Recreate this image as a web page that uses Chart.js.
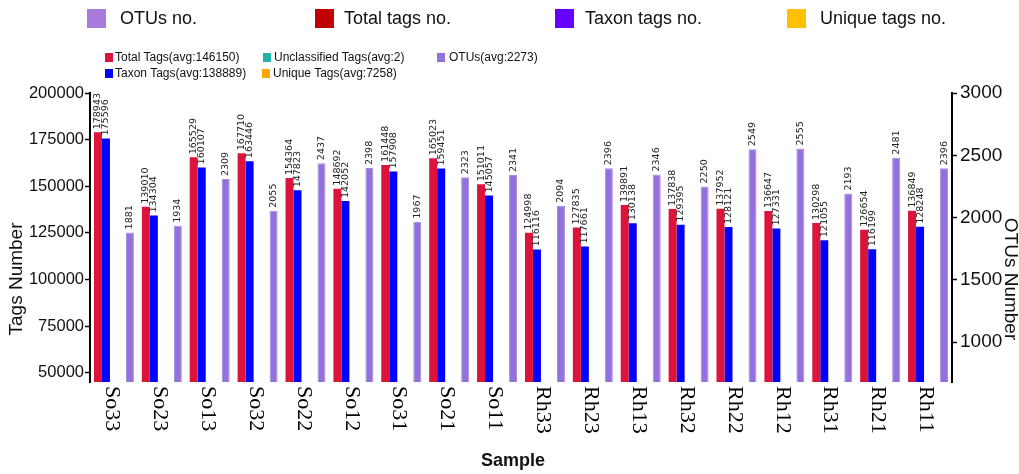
<!DOCTYPE html>
<html lang="en">
<head>
  <meta charset="UTF-8">
  <title>Tags and OTUs per sample</title>
  <script src="https://cdn.jsdelivr.net/npm/chart.js"></script>
  <style>
    body { margin: 0; background: #fff; font-family: 'Liberation Sans', Arial, sans-serif; }
    #wrap { position: relative; width: 1019px; height: 474px; overflow: hidden; }
    #chart { position: absolute; left: 0; top: 0; }
    .sq { position: absolute; }
    .lg { position: absolute; color: #111; white-space: nowrap; line-height: 1; }
    .big { font-size: 18px; }
    .small { font-size: 12px; }
  </style>
</head>
<body>
  <div id="wrap">
    <canvas id="chart" width="1019" height="474"></canvas>

    <!-- top legend -->
    <div class="sq" style="left:87px;top:9px;width:19px;height:19px;background:#a97bdc"></div>
    <div class="lg big" style="left:120px;top:9px">OTUs no.</div>
    <div class="sq" style="left:315px;top:9px;width:19px;height:19px;background:#c00000"></div>
    <div class="lg big" style="left:344px;top:9px">Total tags no.</div>
    <div class="sq" style="left:555px;top:9px;width:19px;height:19px;background:#6600ff"></div>
    <div class="lg big" style="left:585px;top:9px">Taxon tags no.</div>
    <div class="sq" style="left:787px;top:9px;width:19px;height:19px;background:#ffc000"></div>
    <div class="lg big" style="left:820px;top:9px">Unique tags no.</div>

    <!-- second legend -->
    <div class="sq" style="left:105px;top:53px;width:8px;height:9px;background:#dc143c"></div>
    <div class="lg small" style="left:115px;top:51px">Total Tags(avg:146150)</div>
    <div class="sq" style="left:263px;top:53px;width:8px;height:9px;background:#20b2aa"></div>
    <div class="lg small" style="left:274px;top:51px">Unclassified Tags(avg:2)</div>
    <div class="sq" style="left:437px;top:53px;width:8px;height:9px;background:#9370db"></div>
    <div class="lg small" style="left:449px;top:51px">OTUs(avg:2273)</div>
    <div class="sq" style="left:105px;top:69px;width:8px;height:9px;background:#0000ff"></div>
    <div class="lg small" style="left:115px;top:67px">Taxon Tags(avg:138889)</div>
    <div class="sq" style="left:262px;top:69px;width:8px;height:9px;background:#ffa500"></div>
    <div class="lg small" style="left:273px;top:67px">Unique Tags(avg:7258)</div>
  </div>

  <script>
    const samples = ["So33", "So23", "So13", "So32", "So22", "So12", "So31", "So21", "So11",
                     "Rh33", "Rh23", "Rh13", "Rh32", "Rh22", "Rh12", "Rh31", "Rh21", "Rh11"];
    const totalTags = [178943, 139010, 165529, 167710, 154364, 148692, 161448, 165023, 151011,
                       124998, 127835, 139891, 137838, 137952, 136647, 130298, 126654, 136849];
    const taxonTags = [175596, 134304, 160107, 163446, 147823, 142052, 157908, 159451, 145057,
                       116116, 117661, 130138, 129395, 128121, 127331, 121055, 116199, 128248];
    const unclassifiedTags = [2, 2, 2, 2, 2, 2, 2, 2, 2, 2, 2, 2, 2, 2, 2, 2, 2, 2];
    const uniqueTags = [3345, 4704, 5420, 4262, 6539, 6638, 3538, 5570, 5952,
                        8880, 10172, 9751, 8441, 9829, 9314, 9241, 10453, 8599];
    const otus = [1881, 1934, 2309, 2055, 2437, 2398, 1967, 2323, 2341,
                  2094, 2396, 2346, 2250, 2549, 2555, 2193, 2481, 2396];
    const tagTicks = [50000, 75000, 100000, 125000, 150000, 175000, 200000];
    const otuTicks = [1000, 1500, 2000, 2500, 3000];

    // value labels above bars, category labels, axis titles
    const extras = {
      id: 'extras',
      afterDatasetsDraw(chart) {
        const ctx = chart.ctx;
        ctx.save();
        ctx.fillStyle = '#222';
        ctx.font = '9.5px "DejaVu Sans"';
        ctx.textAlign = 'left';
        ctx.textBaseline = 'middle';
        [0, 1, 4].forEach(di => {
          const ds = chart.data.datasets[di];
          chart.getDatasetMeta(di).data.forEach((bar, i) => {
            ctx.save();
            ctx.translate(bar.x, bar.y - 3);
            ctx.rotate(-Math.PI / 2);
            ctx.fillText(String(ds.data[i]), 0, 0);
            ctx.restore();
          });
        });
        ctx.restore();
      },
      afterDraw(chart) {
        const ctx = chart.ctx;
        const x = chart.scales.x;
        ctx.save();
        ctx.fillStyle = '#000';
        ctx.font = '22px "Liberation Serif", serif';
        ctx.textAlign = 'left';
        ctx.textBaseline = 'middle';
        samples.forEach((s, i) => {
          ctx.save();
          ctx.translate(x.getPixelForValue(i) - 2, 386);
          ctx.rotate(Math.PI / 2);
          ctx.fillText(s, 0, 0);
          ctx.restore();
        });

        ctx.fillStyle = '#111';
        ctx.textAlign = 'center';
        ctx.font = '19px "Liberation Sans", Arial, sans-serif';
        ctx.save();
        ctx.translate(17, 279);
        ctx.rotate(-Math.PI / 2);
        ctx.fillText('Tags Number', 0, 0);
        ctx.restore();
        ctx.save();
        ctx.translate(1010, 279);
        ctx.rotate(Math.PI / 2);
        ctx.fillText('OTUs Number', 0, 0);
        ctx.restore();

        ctx.font = 'bold 18px "Liberation Sans", Arial, sans-serif';
        ctx.fillText('Sample', 513, 461);
        ctx.restore();
      }
    };

    new Chart(document.getElementById('chart'), {
      type: 'bar',
      data: {
        labels: samples,
        datasets: [
          { label: 'Total Tags', data: totalTags, backgroundColor: '#dc143c', yAxisID: 'y' },
          { label: 'Taxon Tags', data: taxonTags, backgroundColor: '#0000ff', yAxisID: 'y' },
          { label: 'Unclassified Tags', data: unclassifiedTags, backgroundColor: '#20b2aa', yAxisID: 'y' },
          { label: 'Unique Tags', data: uniqueTags, backgroundColor: '#ffa500', yAxisID: 'y' },
          { label: 'OTUs', data: otus, backgroundColor: '#9370db', borderColor: '#a48ae0', borderWidth: 1, yAxisID: 'y1' }
        ]
      },
      options: {
        responsive: false,
        devicePixelRatio: 1,
        animation: false,
        categoryPercentage: 0.835,
        barPercentage: 1.0,
        layout: { padding: { top: 93, left: 0, right: 0, bottom: 0 } },
        plugins: { legend: { display: false }, tooltip: { enabled: false } },
        scales: {
          x: {
            grid: { display: false },
            border: { display: false },
            ticks: { display: false },
            afterFit: s => { s.height = 92; }
          },
          y: {
            position: 'left',
            min: 45000,
            max: 200000,
            afterBuildTicks: s => { s.ticks = tagTicks.map(v => ({ value: v })); },
            afterFit: s => { s.width = 90; },
            border: { color: '#000', width: 2 },
            grid: { drawOnChartArea: false, color: '#000', tickLength: 5, tickWidth: 1.5 },
            ticks: { color: '#111', padding: 1, callback: v => String(v), font: { family: 'Liberation Sans', size: 16.5 } }
          },
          y1: {
            position: 'right',
            min: 680,
            max: 3000,
            afterBuildTicks: s => { s.ticks = otuTicks.map(v => ({ value: v })); },
            afterFit: s => { s.width = 67; },
            border: { color: '#000', width: 2 },
            grid: { drawOnChartArea: false, color: '#000', tickLength: 5, tickWidth: 1.5 },
            ticks: { color: '#111', padding: 3, callback: v => String(v), font: { family: 'Liberation Sans', size: 19 } }
          }
        }
      },
      plugins: [extras]
    });
  </script>
</body>
</html>
